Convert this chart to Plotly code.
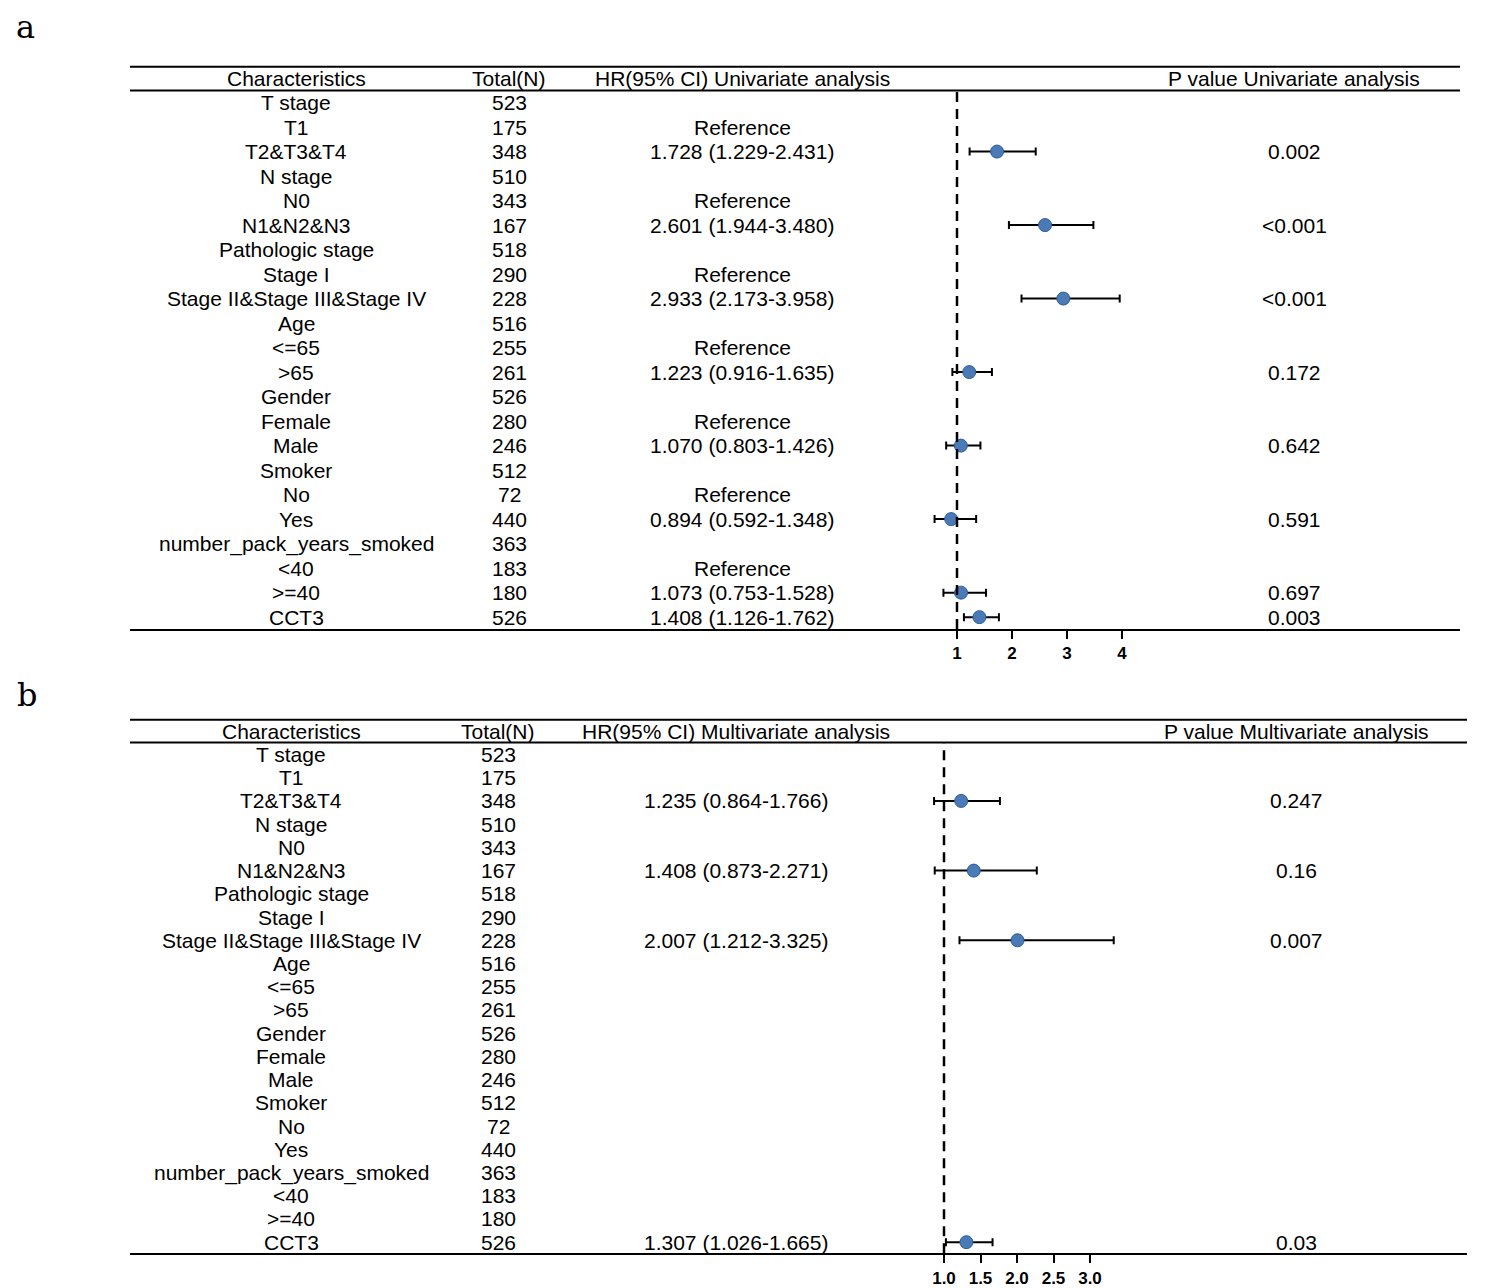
import plotly.graph_objects as go

W, H = 1480, 1280   # page body has an 8px margin in the viewer
OFF = 8

characteristics = ["T stage", "T1", "T2&T3&T4", "N stage", "N0", "N1&N2&N3",
                   "Pathologic stage", "Stage I", "Stage II&Stage III&Stage IV",
                   "Age", "<=65", ">65", "Gender", "Female", "Male", "Smoker",
                   "No", "Yes", "number_pack_years_smoked", "<40", ">=40", "CCT3"]
totals = [523, 175, 348, 510, 343, 167, 518, 290, 228, 516, 255, 261, 526, 280,
          246, 512, 72, 440, 363, 183, 180, 526]

# Univariate
uni_hr = [None, None, 1.728, None, None, 2.601, None, None, 2.933, None, None, 1.223,
          None, None, 1.070, None, None, 0.894, None, None, 1.073, 1.408]
uni_lo = [None, None, 1.229, None, None, 1.944, None, None, 2.173, None, None, 0.916,
          None, None, 0.803, None, None, 0.592, None, None, 0.753, 1.126]
uni_hi = [None, None, 2.431, None, None, 3.480, None, None, 3.958, None, None, 1.635,
          None, None, 1.426, None, None, 1.348, None, None, 1.528, 1.762]
uni_p = ["", "", "0.002", "", "", "<0.001", "", "", "<0.001", "", "", "0.172",
         "", "", "0.642", "", "", "0.591", "", "", "0.697", "0.003"]
uni_ref = [False, True, False, False, True, False, False, True, False, False, True, False,
           False, True, False, False, True, False, False, True, False, False]

# Multivariate
multi_hr = [None, None, 1.235, None, None, 1.408, None, None, 2.007] + [None] * 12 + [1.307]
multi_lo = [None, None, 0.864, None, None, 0.873, None, None, 1.212] + [None] * 12 + [1.026]
multi_hi = [None, None, 1.766, None, None, 2.271, None, None, 3.325] + [None] * 12 + [1.665]
multi_p = ["", "", "0.247", "", "", "0.16", "", "", "0.007"] + [""] * 12 + ["0.03"]

uni_ticks = [1, 2, 3, 4]
uni_ticktext = ["1", "2", "3", "4"]
multi_ticks = [1.0, 1.5, 2.0, 2.5, 3.0]
multi_ticktext = ["1.0", "1.5", "2.0", "2.5", "3.0"]


def px(x):
    return (x - OFF) / W


def py(y):
    return 1 - (y - OFF) / H


FONT = "Liberation Sans, Arial, sans-serif"
FS = 21
BLUE = "#4a7bb7"
BLUE_EDGE = "#2d5d9c"

fig = go.Figure()

panels = [
    dict(hr=uni_hr, lo=uni_lo, hi=uni_hi, p=uni_p, ref=uni_ref,
         xa="x", ya="y", xkey="xaxis", ykey="yaxis",
         left=130, right=1460, line_top=67, head_y=79, head_bot=91, bottom=632,
         row0=103, step=(620 - 103) / 21, x1=957, upx=55,
         cols=(296, 509, 742, 1294),
         headers=("Characteristics", "Total(N)", "HR(95% CI) Univariate analysis",
                  "P value Univariate analysis"),
         ticks=uni_ticks, ticktext=uni_ticktext, letter="a", letter_xy=(25, 27)),
    dict(hr=multi_hr, lo=multi_lo, hi=multi_hi, p=multi_p, ref=[False] * 22,
         xa="x2", ya="y2", xkey="xaxis2", ykey="yaxis2",
         left=130, right=1467, line_top=723, head_y=735, head_bot=746, bottom=1259,
         row0=758, step=(1248 - 758) / 21, x1=944, upx=73,
         cols=(291, 498, 736, 1296),
         headers=("Characteristics", "Total(N)", "HR(95% CI) Multivariate analysis",
                  "P value Multivariate analysis"),
         ticks=multi_ticks, ticktext=multi_ticktext, letter="b", letter_xy=(27, 698)),
]

annotations = []
shapes = []

for P in panels:
    n = len(characteristics)
    rows = list(range(n))
    idx = [i for i in rows if P["hr"][i] is not None]
    xs = [P["hr"][i] for i in idx]
    ys = [i for i in idx]
    plus = [P["hi"][i] - P["hr"][i] for i in idx]
    minus = [P["hr"][i] - P["lo"][i] for i in idx]
    fig.add_trace(go.Scatter(
        x=xs, y=ys, mode="markers", xaxis=P["xa"], yaxis=P["ya"],
        marker=dict(symbol="circle", size=13, color=BLUE,
                    line=dict(color=BLUE_EDGE, width=1)),
        error_x=dict(type="data", symmetric=False, array=plus, arrayminus=minus,
                     color="black", thickness=2, width=4),
        showlegend=False, hoverinfo="skip"))

    xmin = 1 - (P["x1"] - P["left"]) / P["upx"]
    xmax = 1 + (P["right"] - P["x1"]) / P["upx"]
    ytop = (P["head_bot"] - P["row0"]) / P["step"]
    ybot = (P["bottom"] - P["row0"]) / P["step"]
    fig.layout[P["xkey"]] = dict(
        domain=[px(P["left"]), px(P["right"])], range=[xmin, xmax],
        anchor=P["ya"], showgrid=False, zeroline=False, showline=True,
        linecolor="black", linewidth=2, ticks="outside", ticklen=8, tickwidth=2,
        tickcolor="black", tickvals=P["ticks"], ticktext=P["ticktext"],
        tickfont=dict(family=FONT, size=17, color="black", weight="bold"),
        fixedrange=True)
    fig.layout[P["ykey"]] = dict(
        domain=[py(P["bottom"]), py(P["head_bot"])], range=[ybot, ytop],
        anchor=P["xa"], visible=False, showgrid=False, zeroline=False,
        fixedrange=True)

    shapes.append(dict(type="line", xref=P["xa"], yref=P["ya"] + " domain",
                       x0=1, x1=1, y0=0, y1=1,
                       line=dict(color="black", width=2.5, dash="10px,7px")))
    for yy in (P["line_top"], P["head_bot"]):
        shapes.append(dict(type="line", xref="paper", yref="paper",
                           x0=px(P["left"]), x1=px(P["right"]), y0=py(yy), y1=py(yy),
                           line=dict(color="black", width=2)))

    for cx, txt in zip(P["cols"], P["headers"]):
        annotations.append(dict(text=txt, xref="paper", yref="paper",
                                x=px(cx), y=py(P["head_y"]), showarrow=False,
                                xanchor="center", yanchor="middle",
                                font=dict(family=FONT, size=FS, color="black")))
    for i in rows:
        hr_txt = ""
        if P["ref"][i]:
            hr_txt = "Reference"
        elif P["hr"][i] is not None:
            hr_txt = f"{P['hr'][i]:.3f} ({P['lo'][i]:.3f}-{P['hi'][i]:.3f})"
        for cx, txt in zip(P["cols"], [characteristics[i], str(totals[i]), hr_txt, P["p"][i]]):
            if txt == "":
                continue
            annotations.append(dict(text=txt, xref="paper", yref=P["ya"],
                                    x=px(cx), y=i, showarrow=False,
                                    xanchor="center", yanchor="middle",
                                    font=dict(family=FONT, size=FS, color="black")))
    annotations.append(dict(text=P["letter"], xref="paper", yref="paper",
                            x=px(P["letter_xy"][0]), y=py(P["letter_xy"][1]),
                            showarrow=False, xanchor="center", yanchor="middle",
                            font=dict(family="DejaVu Serif, Liberation Serif, serif",
                                      size=32, color="black")))

fig.update_layout(
    width=W, height=H, margin=dict(l=0, r=0, t=0, b=0),
    paper_bgcolor="white", plot_bgcolor="white",
    annotations=annotations, shapes=shapes, showlegend=False)

fig.write_html("out.html")
